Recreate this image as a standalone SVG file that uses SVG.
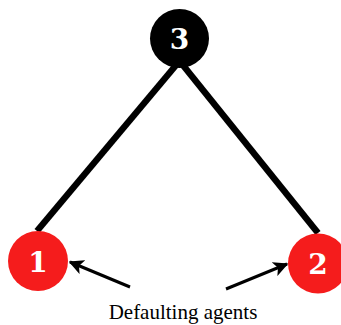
<svg xmlns="http://www.w3.org/2000/svg" width="341" height="325" viewBox="0 0 341 325">
  <defs>
    <marker id="head" viewBox="0 0 10 10" refX="9" refY="5" markerWidth="5" markerHeight="5" markerUnits="strokeWidth" orient="auto">
      <path d="M0,0 L10,5 L0,10 L2.5,5 Z" fill="#000"/>
    </marker>
  </defs>
  <style>
    .edge { stroke: #000; stroke-width: 6.5; stroke-linecap: butt; fill: none; }
    .pointer { stroke: #000; stroke-width: 3; fill: none; }
    .num { font-family: "DejaVu Serif", serif; font-weight: bold; font-size: 28px; fill: #fff; text-anchor: middle; }
    .caption { font-family: "Liberation Serif", serif; font-size: 21px; fill: #000; text-anchor: middle; }
  </style>
  <rect width="341" height="325" fill="#fff"/>
  <g id="connectors">
    <line class="edge" x1="177" y1="64" x2="37" y2="231"/>
    <line class="edge" x1="182" y1="64" x2="318" y2="233"/>
    <line class="pointer" x1="130" y1="287" x2="70" y2="262" marker-end="url(#head)"/>
    <line class="pointer" x1="226" y1="289" x2="287" y2="264" marker-end="url(#head)"/>
  </g>
  <g id="node3">
    <circle cx="179.5" cy="38.5" r="29.5" fill="#000"/>
    <text class="num" x="179.5" y="48.5">3</text>
  </g>
  <g id="node1">
    <circle cx="38" cy="261" r="30" fill="#f51c1c"/>
    <text class="num" x="38" y="271.5">1</text>
  </g>
  <g id="node2">
    <circle cx="318" cy="263.5" r="30" fill="#f51c1c"/>
    <text class="num" x="318" y="274">2</text>
  </g>
  <g id="label">
    <text class="caption" x="183" y="319">Defaulting agents</text>
  </g>
</svg>
